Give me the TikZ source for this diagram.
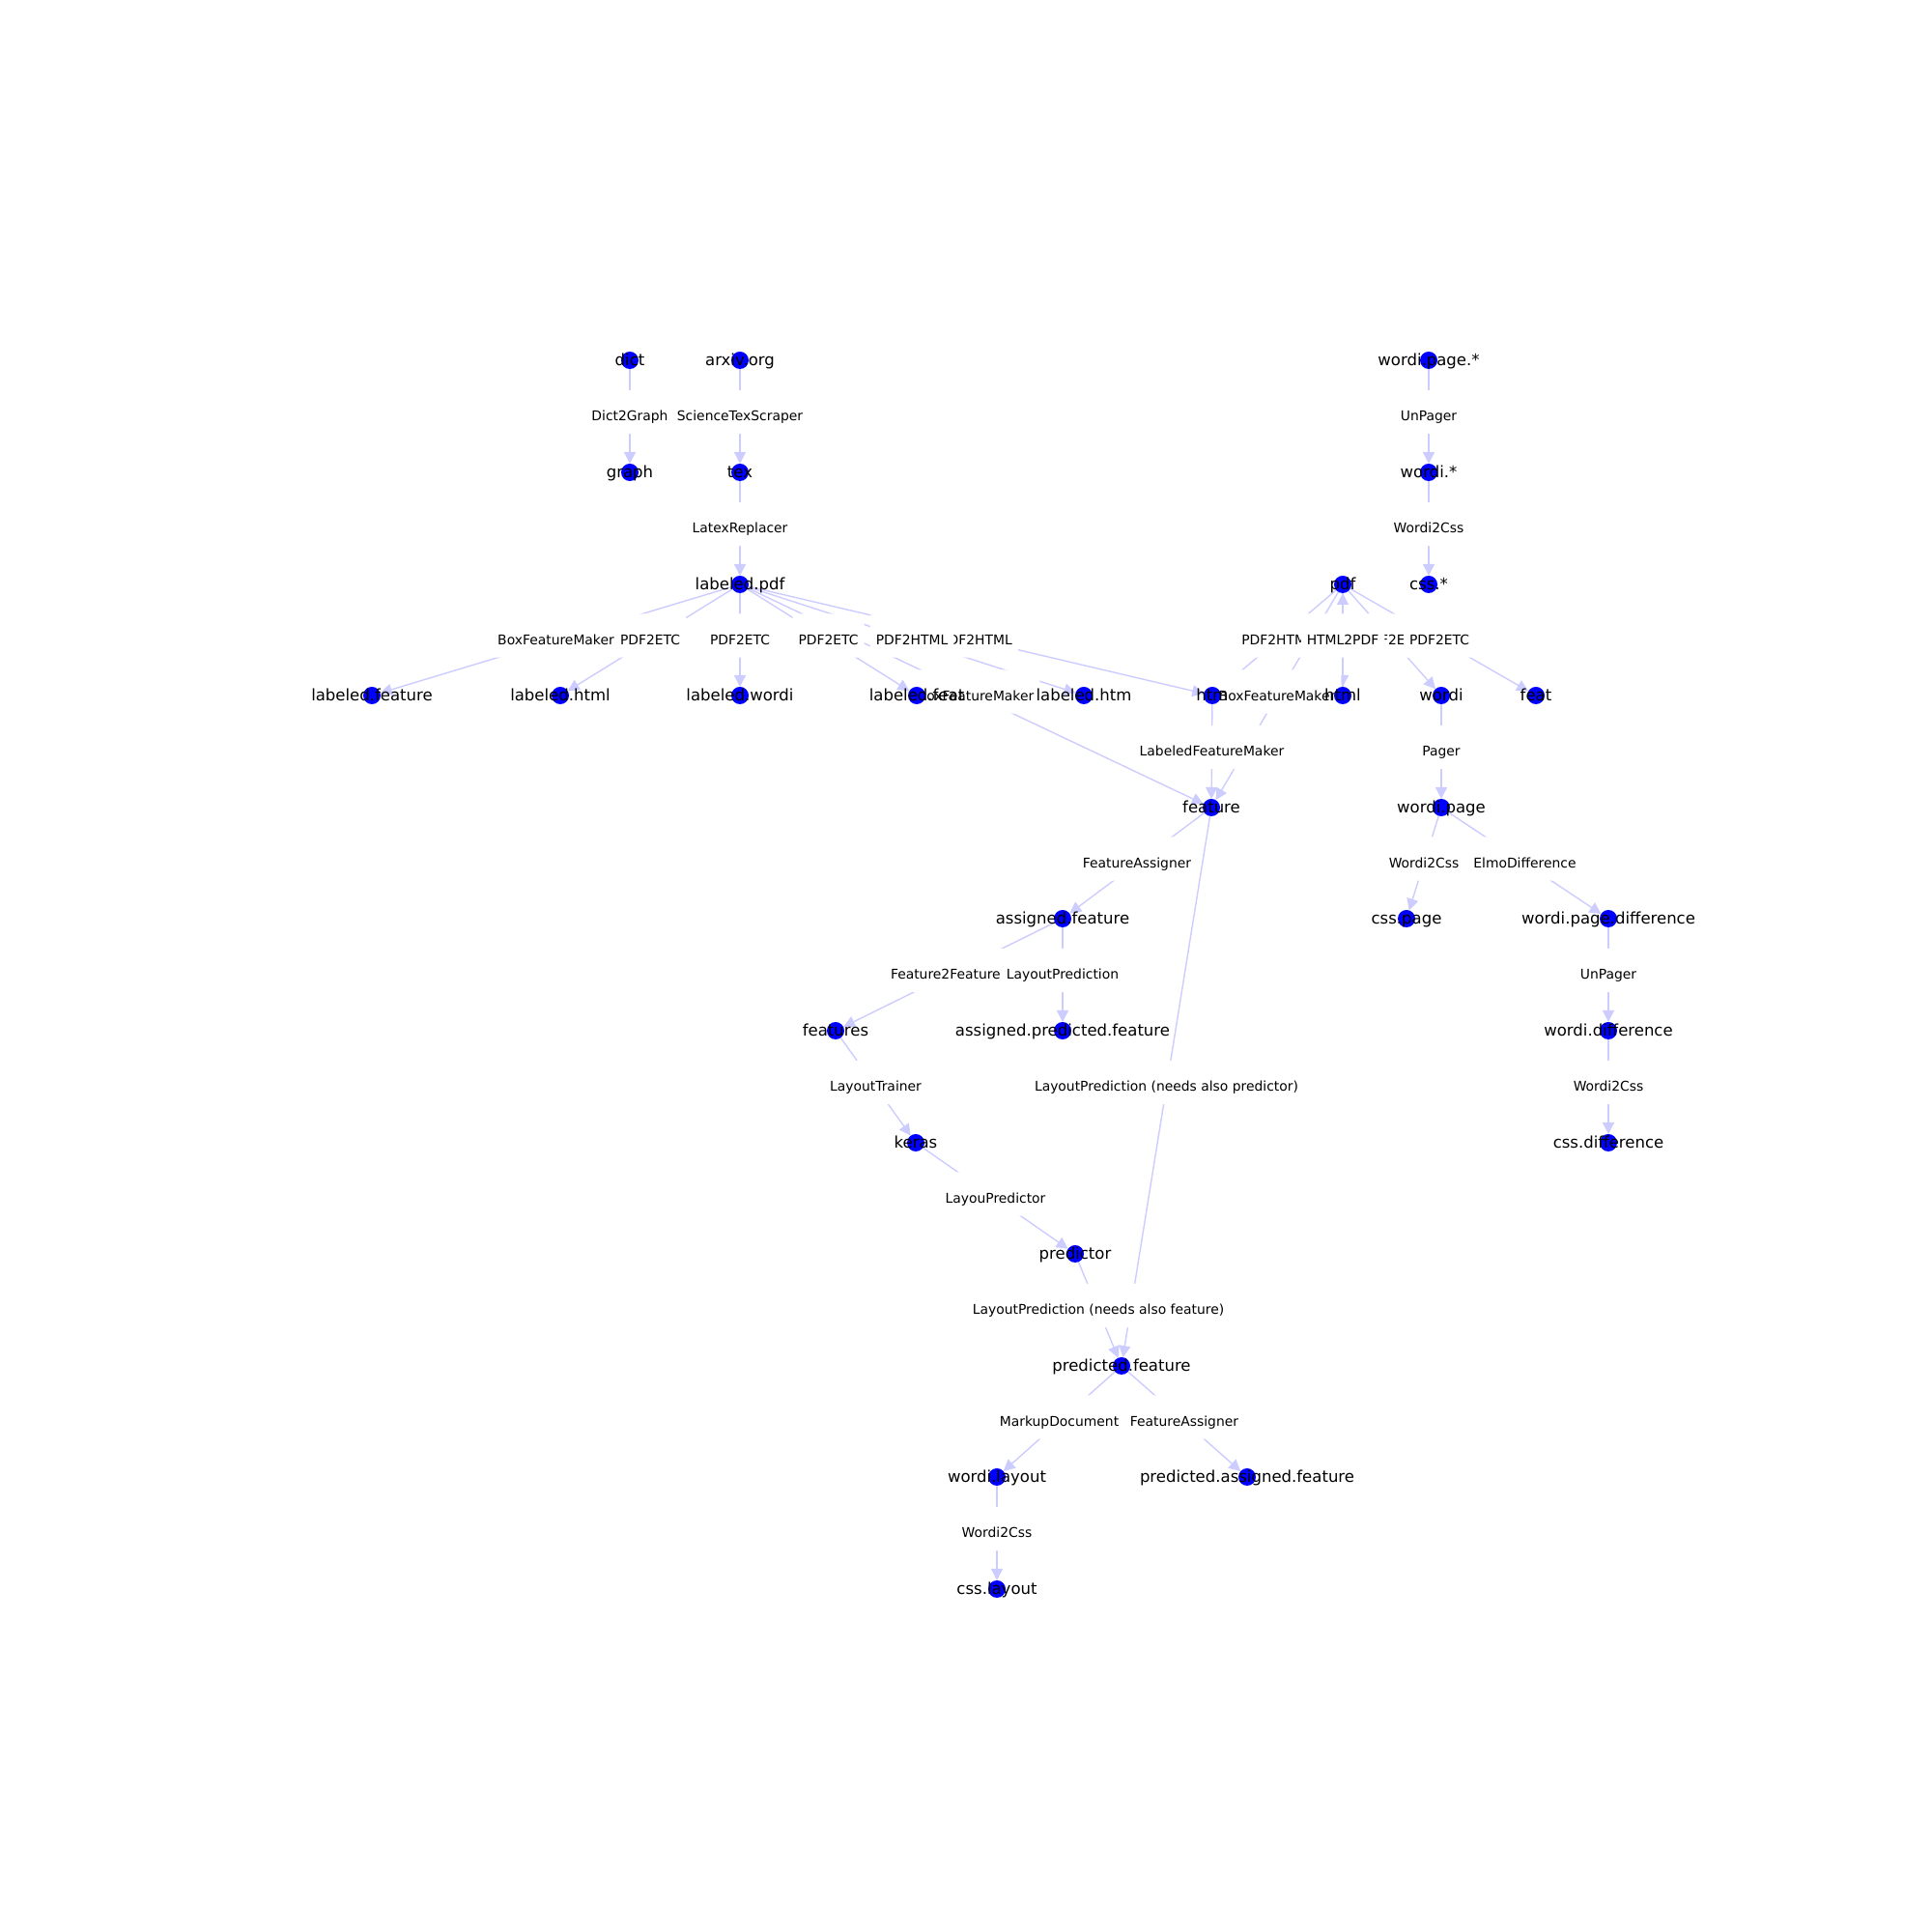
\documentclass[tikz,border=0pt]{standalone}
\usepackage{fontspec}
\setmainfont{DejaVu Sans}
\usetikzlibrary{arrows.meta}
\definecolor{edgecol}{RGB}{204,204,255}
\pgfdeclarelayer{edges}
\pgfdeclarelayer{elabels}
\pgfsetlayers{edges,elabels,main}
\tikzset{
  vert/.style={fill=blue, circle, inner sep=0pt, outer sep=0pt, minimum size=0.18cm},
  vlab/.style={font=\fontsize{4.7pt}{5.6pt}\selectfont, inner sep=0pt, text height=0.76em, text depth=0.24em, yshift=0.035cm},
  flow/.style={draw=edgecol, line width=0.4pt, -{Triangle[length=0.12cm,width=0.12cm]}},
  elab/.style={fill=white, rounded corners=0.03cm, inner xsep=0.06cm, inner ysep=0.05cm, yshift=0.045cm,
    font=\fontsize{3.95pt}{4.7pt}\selectfont, text height=0.76em, text depth=0.24em}
}
\begin{document}
\begin{tikzpicture}
    \useasboundingbox (0,0) rectangle (20,20);

        \node[vert, label={[vlab]center:dict}] (dict) at (6.52,16.27) {};
        \node[vert, label={[vlab]center:arxiv.org}] (arxiv) at (7.66,16.27) {};
        \node[vert, label={[vlab]center:wordi.page.*}] (wpagestar) at (14.79,16.27) {};

        \node[vert, label={[vlab]center:graph}] (graph) at (6.52,15.11) {};
        \node[vert, label={[vlab]center:tex}] (tex) at (7.66,15.11) {};
        \node[vert, label={[vlab]center:wordi.*}] (wstar) at (14.79,15.11) {};

        \node[vert, label={[vlab]center:labeled.pdf}] (lpdf) at (7.66,13.95) {};
        \node[vert, label={[vlab]center:pdf}] (pdf) at (13.90,13.95) {};
        \node[vert, label={[vlab]center:css.*}] (cssstar) at (14.79,13.95) {};

        \node[vert, label={[vlab]center:labeled.feature}] (lfeature) at (3.85,12.80) {};
        \node[vert, label={[vlab]center:labeled.html}] (lhtml) at (5.80,12.80) {};
        \node[vert, label={[vlab]center:labeled.wordi}] (lwordi) at (7.66,12.80) {};
        \node[vert, label={[vlab]center:labeled.feat}] (lfeat) at (9.49,12.80) {};
        \node[vert, label={[vlab]center:labeled.htm}] (lhtm) at (11.22,12.80) {};
        \node[vert, label={[vlab]center:htm}] (htm) at (12.55,12.80) {};
        \node[vert, label={[vlab]center:html}] (html) at (13.90,12.80) {};
        \node[vert, label={[vlab]center:wordi}] (wordi) at (14.92,12.80) {};
        \node[vert, label={[vlab]center:feat}] (feat) at (15.90,12.80) {};

        \node[vert, label={[vlab]center:feature}] (feature) at (12.54,11.64) {};
        \node[vert, label={[vlab]center:wordi.page}] (wpage) at (14.92,11.64) {};

        \node[vert, label={[vlab]center:assigned.feature}] (afeature) at (11.00,10.49) {};
        \node[vert, label={[vlab]center:css.page}] (csspage) at (14.56,10.49) {};
        \node[vert, label={[vlab]center:wordi.page.difference}] (wpagediff) at (16.65,10.49) {};

        \node[vert, label={[vlab]center:features}] (features) at (8.65,9.33) {};
        \node[vert, label={[vlab]center:assigned.predicted.feature}] (apfeature) at (11.00,9.33) {};
        \node[vert, label={[vlab]center:wordi.difference}] (wdiff) at (16.65,9.33) {};

        \node[vert, label={[vlab]center:keras}] (keras) at (9.48,8.17) {};
        \node[vert, label={[vlab]center:css.difference}] (cssdiff) at (16.65,8.17) {};

        \node[vert, label={[vlab]center:predictor}] (predictor) at (11.13,7.02) {};

        \node[vert, label={[vlab]center:predicted.feature}] (pfeature) at (11.61,5.86) {};

        \node[vert, label={[vlab]center:wordi.layout}] (wlayout) at (10.32,4.71) {};
        \node[vert, label={[vlab]center:predicted.assigned.feature}] (pafeature) at (12.91,4.71) {};

        \node[vert, label={[vlab]center:css.layout}] (csslayout) at (10.32,3.55) {};

    \begin{pgfonlayer}{edges}
        % Draw edges of the scraping part
        \draw[flow] (dict) -- (graph);
        \draw[flow] (arxiv) -- (tex);
        \draw[flow] (tex) -- (lpdf);
        \draw[flow] (wpagestar) -- (wstar);
        \draw[flow] (wstar) -- (cssstar);

        % Draw edges leaving labeled.pdf
        \draw[flow] (lpdf) -- (lfeature);
        \draw[flow] (lpdf) -- (lhtml);
        \draw[flow] (lpdf) -- (lwordi);
        \draw[flow] (lpdf) -- (lfeat);
        \draw[flow] (lpdf) -- (lhtm);
        \draw[flow] (lpdf) -- (htm);
        \draw[flow] (lpdf) -- (feature);

        % Draw edges leaving pdf
        \draw[flow] (pdf) -- (htm);
        \draw[flow] (pdf) -- (html);
        \draw[flow] (html) -- (pdf);
        \draw[flow] (pdf) -- (feature);
        \draw[flow] (pdf) -- (wordi);
        \draw[flow] (pdf) -- (feat);

        % Draw edges of the feature part
        \draw[flow] (htm) -- (feature);
        \draw[flow] (feature) -- (afeature);
        \draw[flow] (feature) -- (pfeature);
        \draw[flow] (afeature) -- (features);
        \draw[flow] (afeature) -- (apfeature);
        \draw[flow] (features) -- (keras);
        \draw[flow] (keras) -- (predictor);
        \draw[flow] (predictor) -- (pfeature);
        \draw[flow] (pfeature) -- (wlayout);
        \draw[flow] (pfeature) -- (pafeature);
        \draw[flow] (wlayout) -- (csslayout);

        % Draw edges of the wordi part
        \draw[flow] (wordi) -- (wpage);
        \draw[flow] (wpage) -- (csspage);
        \draw[flow] (wpage) -- (wpagediff);
        \draw[flow] (wpagediff) -- (wdiff);
        \draw[flow] (wdiff) -- (cssdiff);
    \end{pgfonlayer}

    \begin{pgfonlayer}{elabels}
        % Draw edge labels
        \path (dict) -- node[elab] {Dict2Graph} (graph);
        \path (arxiv) -- node[elab] {ScienceTexScraper} (tex);
        \path (tex) -- node[elab] {LatexReplacer} (lpdf);
        \path (wpagestar) -- node[elab] {UnPager} (wstar);
        \path (wstar) -- node[elab] {Wordi2Css} (cssstar);

        \path (lpdf) -- node[elab] {BoxFeatureMaker} (lfeature);
        \path (lpdf) -- node[elab] {PDF2ETC} (lhtml);
        \path (lpdf) -- node[elab] {PDF2ETC} (lwordi);
        \path (lpdf) -- node[elab] {PDF2ETC} (lfeat);
        \path (lpdf) -- node[elab] {PDF2HTML} (htm);
        \path (lpdf) -- node[elab] {PDF2HTML} (lhtm);
        \path (lpdf) -- node[elab] {BoxFeatureMaker} (feature);

        \path (pdf) -- node[elab] {PDF2HTML} (htm);
        \path (pdf) -- node[elab] {PDF2ETC} (wordi);
        \path (html) -- node[elab] {HTML2PDF} (pdf);
        \path (pdf) -- node[elab] {PDF2ETC} (feat);
        \path (pdf) -- node[elab] {BoxFeatureMaker} (feature);

        \path (htm) -- node[elab] {LabeledFeatureMaker} (feature);
        \path (feature) -- node[elab] {FeatureAssigner} (afeature);
        \path (feature) -- node[elab] {LayoutPrediction (needs also predictor)} (pfeature);
        \path (afeature) -- node[elab] {Feature2Features} (features);
        \path (afeature) -- node[elab] {LayoutPrediction} (apfeature);
        \path (features) -- node[elab] {LayoutTrainer} (keras);
        \path (keras) -- node[elab] {LayouPredictor} (predictor);
        \path (predictor) -- node[elab] {LayoutPrediction (needs also feature)} (pfeature);
        \path (pfeature) -- node[elab] {MarkupDocument} (wlayout);
        \path (pfeature) -- node[elab] {FeatureAssigner} (pafeature);
        \path (wlayout) -- node[elab] {Wordi2Css} (csslayout);

        \path (wordi) -- node[elab] {Pager} (wpage);
        \path (wpage) -- node[elab] {Wordi2Css} (csspage);
        \path (wpage) -- node[elab] {ElmoDifference} (wpagediff);
        \path (wpagediff) -- node[elab] {UnPager} (wdiff);
        \path (wdiff) -- node[elab] {Wordi2Css} (cssdiff);
    \end{pgfonlayer}

\end{tikzpicture}
\end{document}
